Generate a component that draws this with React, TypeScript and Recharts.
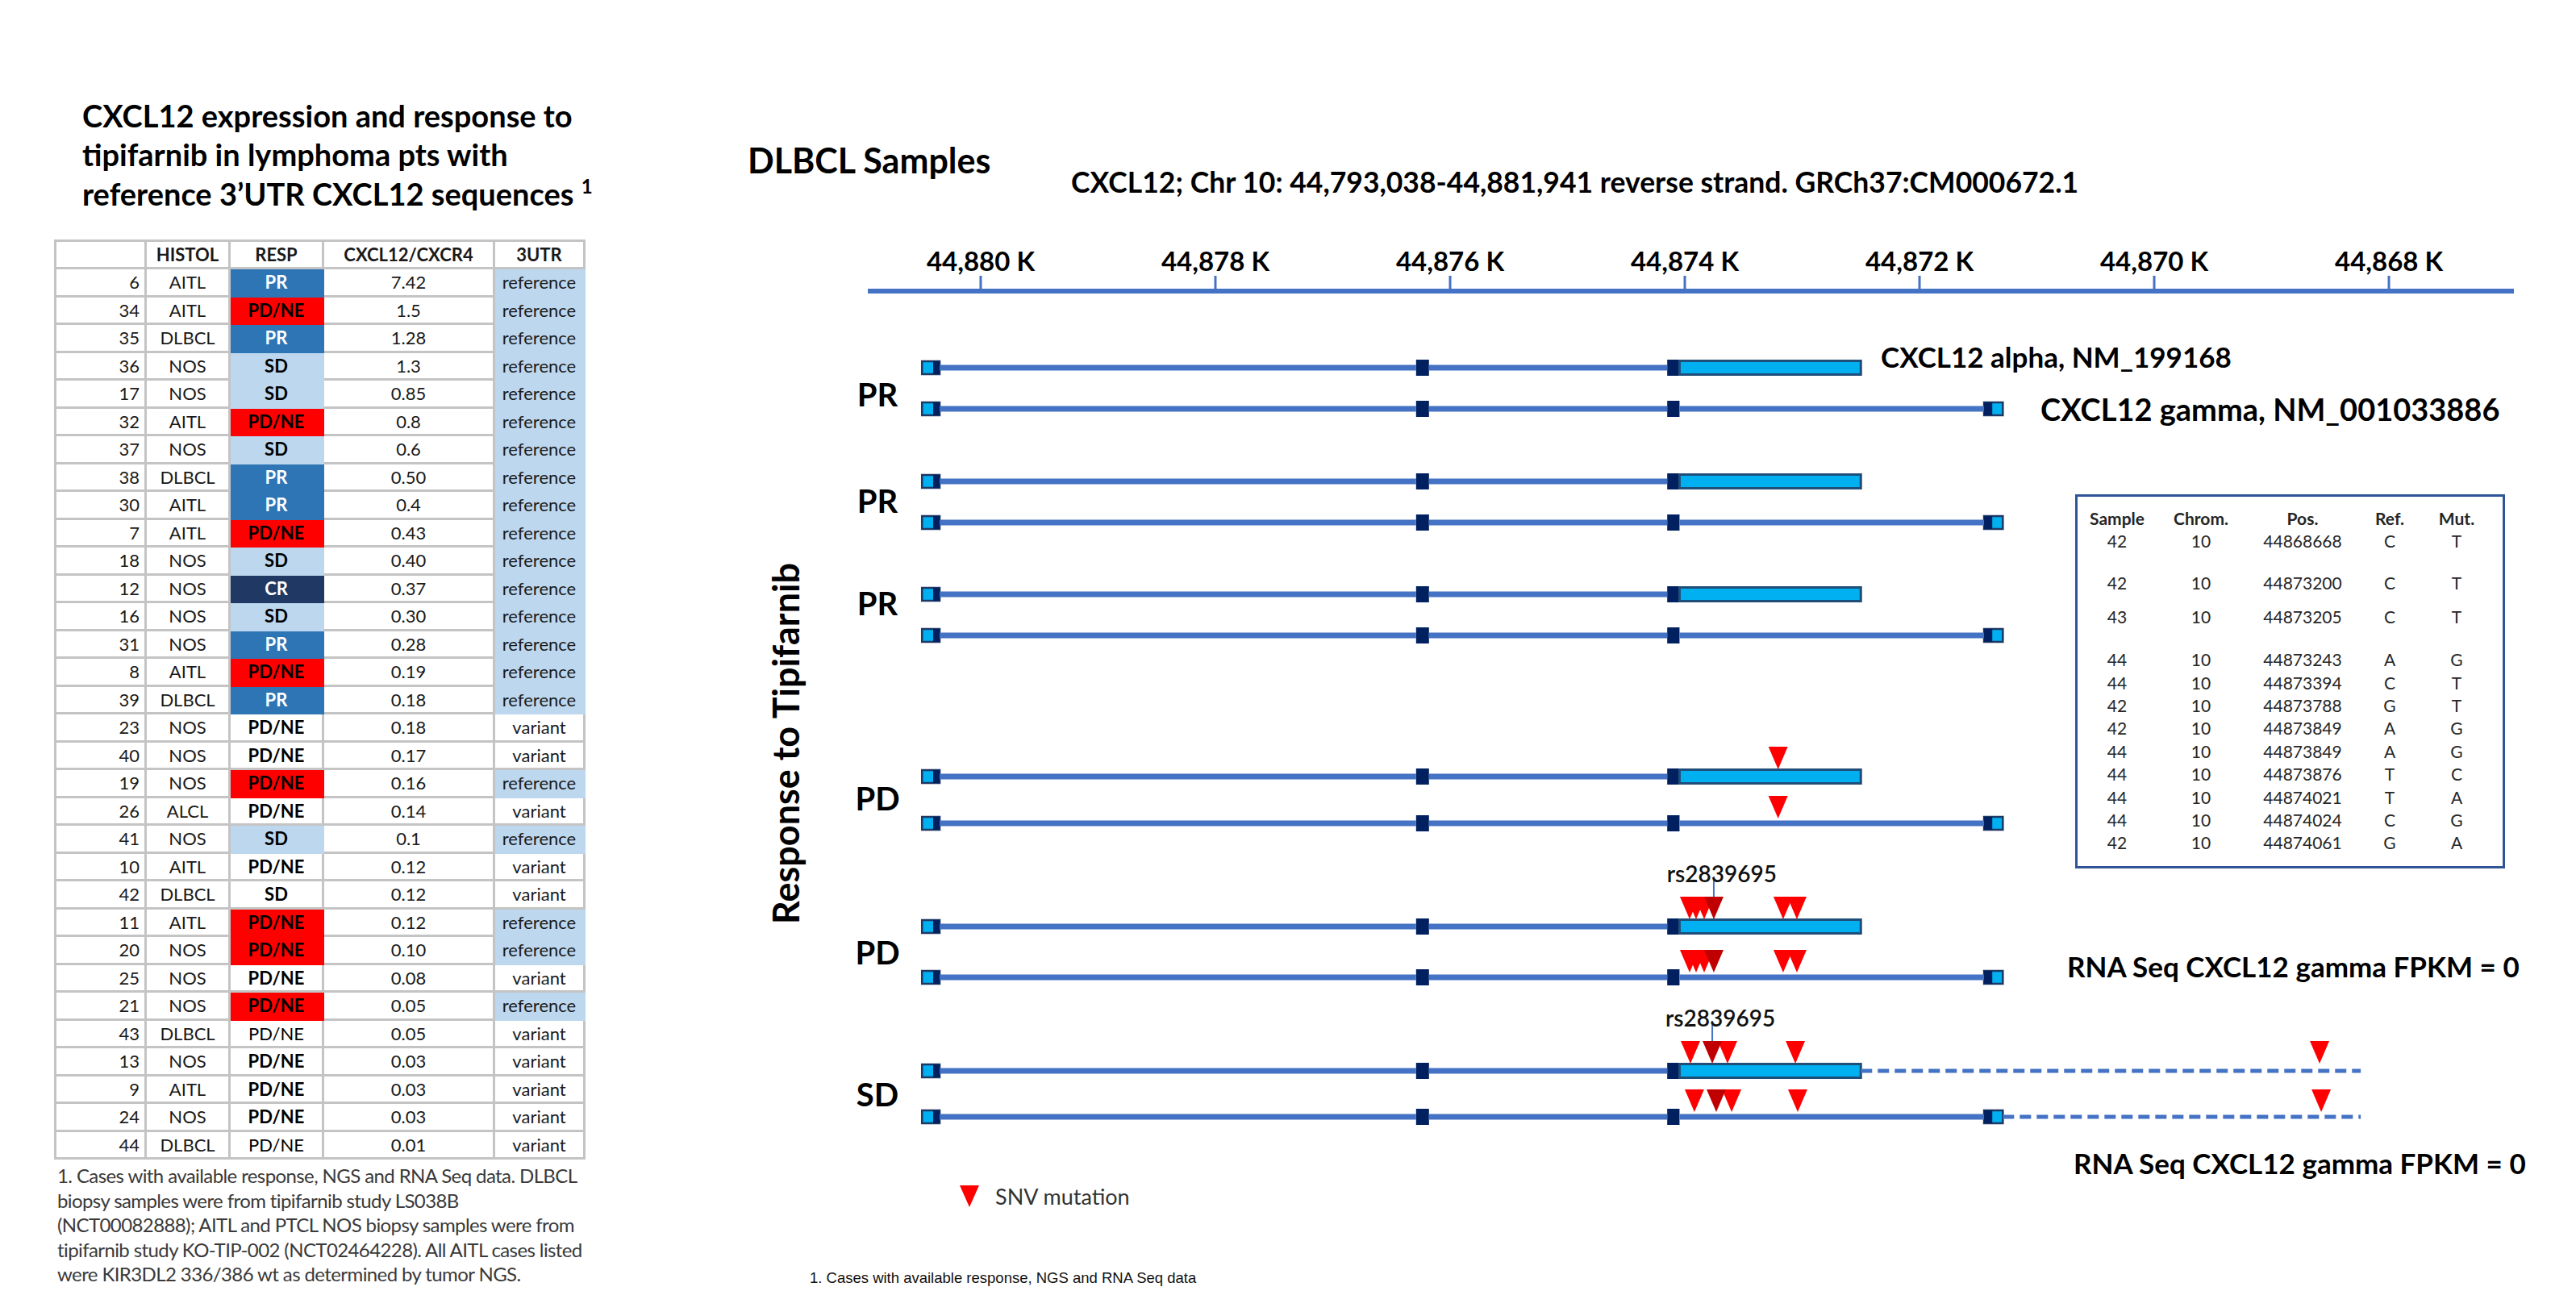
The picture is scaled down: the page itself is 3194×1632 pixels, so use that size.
import React from 'react'
import { ComposedChart, XAxis, YAxis, Scatter, ReferenceLine, ReferenceArea } from 'recharts'

// ---------- left table: cases ----------
const caseIds = [6, 34, 35, 36, 17, 32, 37, 38, 30, 7, 18, 12, 16, 31, 8, 39, 23, 40, 19, 26, 41, 10, 42, 11, 20, 25, 21, 43, 13, 9, 24, 44]
const histology = ['AITL', 'AITL', 'DLBCL', 'NOS', 'NOS', 'AITL', 'NOS', 'DLBCL', 'AITL', 'AITL', 'NOS', 'NOS', 'NOS', 'NOS', 'AITL', 'DLBCL',
  'NOS', 'NOS', 'NOS', 'ALCL', 'NOS', 'AITL', 'DLBCL', 'AITL', 'NOS', 'NOS', 'NOS', 'DLBCL', 'NOS', 'AITL', 'NOS', 'DLBCL']
const response = ['PR', 'PD/NE', 'PR', 'SD', 'SD', 'PD/NE', 'SD', 'PR', 'PR', 'PD/NE', 'SD', 'CR', 'SD', 'PR', 'PD/NE', 'PR',
  'PD/NE', 'PD/NE', 'PD/NE', 'PD/NE', 'SD', 'PD/NE', 'SD', 'PD/NE', 'PD/NE', 'PD/NE', 'PD/NE', 'PD/NE', 'PD/NE', 'PD/NE', 'PD/NE', 'PD/NE']
const ratio = ['7.42', '1.5', '1.28', '1.3', '0.85', '0.8', '0.6', '0.50', '0.4', '0.43', '0.40', '0.37', '0.30', '0.28', '0.19', '0.18',
  '0.18', '0.17', '0.16', '0.14', '0.1', '0.12', '0.12', '0.12', '0.10', '0.08', '0.05', '0.05', '0.03', '0.03', '0.03', '0.01']
const utr = ['reference', 'reference', 'reference', 'reference', 'reference', 'reference', 'reference', 'reference', 'reference', 'reference',
  'reference', 'reference', 'reference', 'reference', 'reference', 'reference', 'variant', 'variant', 'reference', 'variant', 'reference',
  'variant', 'variant', 'reference', 'reference', 'variant', 'reference', 'variant', 'variant', 'variant', 'variant', 'variant']
const plainResp = [43, 44]
const tableHeader = ['', 'HISTOL', 'RESP', 'CXCL12/CXCR4', '3UTR']

// ---------- inset table: SNVs ----------
const mutHeader = ['Sample', 'Chrom.', 'Pos.', 'Ref.', 'Mut.']
const mutSample = [42, 42, 43, 44, 44, 42, 42, 44, 44, 44, 44, 42]
const mutChrom = [10, 10, 10, 10, 10, 10, 10, 10, 10, 10, 10, 10]
const mutPos = [44868668, 44873200, 44873205, 44873243, 44873394, 44873788, 44873849, 44873849, 44873876, 44874021, 44874024, 44874061]
const mutRef = ['C', 'C', 'C', 'A', 'C', 'G', 'A', 'A', 'T', 'T', 'C', 'G']
const mutAlt = ['T', 'T', 'T', 'G', 'T', 'T', 'G', 'G', 'C', 'A', 'G', 'A']

// ---------- gene tracks ----------
const genomeTicks = [44880000, 44878000, 44876000, 44874000, 44872000, 44870000, 44868000]
const laneResponse = ['PR', 'PR', 'PR', 'PD', 'PD', 'SD']
const alphaY = [9.5, 23.6, 37.6, 60.2, 78.8, 96.7]
const gammaY = [14.6, 28.7, 42.7, 66.0, 85.1, 102.4]
const laneLabelY = [12.8, 26.0, 38.7, 62.9, 82.0, 99.6]
const extendTo = [null, null, null, null, null, 44868240]

const exon1 = [44880500, 44880350]
const exon1Split = 44880405
const exon2 = [44876290, 44876180]
const exon3 = [44874150, 44874045]
const alphaUtr = [44874045, 44872500]
const gammaLast = [44871450, 44871290]
const gammaLastSplit = 44871380

const pd1Snv = [44873205]
const pd2Snv = [44873959, 44873904, 44873835, 44873753, 44873162, 44873045]
const sdAlphaSnv = [44873952, 44873766, 44873636, 44873058, 44868591]
const sdGammaSnv = [44873918, 44873732, 44873601, 44873038, 44868577]
const rsSites = [44873753, 44873766, 44873732]
const rsLabelLane = [4, 5]
const rsLabelPos = [44873753, 44873766]

const FONT = 'Lato, "Open Sans", sans-serif'
const LINE = '#4472C4'
const LIGHT = '#00B0F0'
const DARK = '#002060'
const EDGE = '#1F3864'

function Txt({ x, y, size, weight = 400, anchor = 'start', color = '#000', family = FONT, spacing = 0, children }: any) {
  const tx = anchor === 'middle' ? '-50%' : anchor === 'end' ? '-100%' : '0'
  return (
    <div style={{
      position: 'absolute', left: x, top: y, transform: `translate(${tx}, -50%)`, fontSize: size, fontWeight: weight,
      color, fontFamily: family, whiteSpace: 'nowrap', lineHeight: 1, letterSpacing: spacing,
    }}>{children}</div>
  )
}

function CaseTable() {
  const border = '3px solid #C4C4C4'
  const widths = [112, 104, 116, 212, 112]
  const respStyle = (i: number) => {
    const r = response[i]
    const ref = utr[i] === 'reference'
    if (r === 'PR') return { bg: '#2E75B6', color: '#fff' }
    if (r === 'CR') return { bg: '#1F3864', color: '#fff' }
    if (r === 'PD/NE' && ref) return { bg: '#FF0000', color: '#000' }
    if (r === 'SD' && ref) return { bg: '#BDD7EE', color: '#000' }
    return { bg: '#fff', color: '#000' }
  }
  const cell = (bg: string, extra: any = {}) => ({
    border: bg === '#fff' ? border : `3px solid ${bg}`, background: bg, padding: 0, textAlign: 'center' as const, ...extra,
  })
  return (
    <table style={{
      position: 'absolute', left: 67, top: 297, borderCollapse: 'collapse', tableLayout: 'fixed', width: 656,
      fontFamily: FONT, fontSize: 22, color: '#1a1a1a', border,
    }}>
      <colgroup>{widths.map((w, i) => <col key={i} style={{ width: w }} />)}</colgroup>
      <tbody>
        <tr style={{ height: 34 }}>
          {tableHeader.map((h, i) => <td key={i} style={{ ...cell('#fff'), fontWeight: 700 }}>{h}</td>)}
        </tr>
        {caseIds.map((id, i) => {
          const rs = respStyle(i)
          const utrBg = utr[i] === 'reference' ? '#BDD7EE' : '#fff'
          return (
            <tr key={id} style={{ height: 34.5 }}>
              <td style={{ ...cell('#fff'), textAlign: 'right', paddingRight: 6 }}>{id}</td>
              <td style={cell('#fff')}>{histology[i]}</td>
              <td style={{ ...cell(rs.bg), color: rs.color, fontWeight: plainResp.includes(id) ? 400 : 700 }}>{response[i]}</td>
              <td style={cell('#fff')}>{ratio[i]}</td>
              <td style={cell(utrBg)}>{utr[i]}</td>
            </tr>
          )
        })}
      </tbody>
    </table>
  )
}

function MutationTable() {
  const cols = [98, 110, 142, 74, 92]
  const extraGap: Record<number, number> = { 1: 24, 2: 13, 3: 25 }
  const rows = mutSample.map((s, i) => [s, mutChrom[i], mutPos[i], mutRef[i], mutAlt[i]])
  const Row = ({ vals, bold, mt }: any) => (
    <div style={{ display: 'flex', height: 28.4, alignItems: 'center', marginTop: mt }}>
      {vals.map((v: any, j: number) => (
        <div key={j} style={{ width: cols[j], textAlign: 'center', fontWeight: bold ? 700 : 400 }}>{v}</div>
      ))}
    </div>
  )
  return (
    <div style={{
      position: 'absolute', left: 2573, top: 613, width: 527, height: 446, border: '3px solid #2F5597',
      fontFamily: FONT, fontSize: 21, color: '#262626', paddingTop: 12, boxSizing: 'content-box',
    }}>
      <Row vals={mutHeader} bold mt={0} />
      {rows.map((r, i) => <Row key={i} vals={r} mt={extraGap[i] ?? 0} />)}
    </div>
  )
}

const Triangle = (props: any) => {
  const { cx, cy } = props
  const d = props.payload ?? props
  const tip = cy - d.lift
  return <polygon points={`${cx - 12},${tip - 28} ${cx + 12},${tip - 28} ${cx},${tip}`} fill={d.dark ? '#C00000' : '#FF0000'} />
}

const RsLabel = (props: any) => {
  const { cx, cy } = props
  const tip = cy - 9
  return (
    <g>
      <line x1={cx} x2={cx} y1={tip - 28} y2={tip - 53} stroke={LINE} strokeWidth={2} />
      <text x={cx + 10} y={tip - 57} textAnchor="middle" dominantBaseline="central" fontSize={28} fontFamily={FONT} fontWeight={600} fill="#111">
        rs2839695
      </text>
    </g>
  )
}

const LaneTick = (props: any) => {
  const { x, y, payload } = props
  const i = laneLabelY.indexOf(payload.value)
  return (
    <text x={x + 12} y={y} textAnchor="middle" dominantBaseline="central" fontSize={40} fontWeight={700} fontFamily={FONT} fill="#000">
      {laneResponse[i]}
    </text>
  )
}

function TrackChart() {
  const snvTracks = [
    { lane: 3, iso: 'alpha', pos: pd1Snv }, { lane: 3, iso: 'gamma', pos: pd1Snv },
    { lane: 4, iso: 'alpha', pos: pd2Snv }, { lane: 4, iso: 'gamma', pos: pd2Snv },
    { lane: 5, iso: 'alpha', pos: sdAlphaSnv }, { lane: 5, iso: 'gamma', pos: sdGammaSnv },
  ]
  const snvPoints = snvTracks
    .flatMap(t => t.pos.map(p => ({
      x: p, y: t.iso === 'alpha' ? alphaY[t.lane] : gammaY[t.lane], lift: t.iso === 'alpha' ? 9 : 6, dark: rsSites.includes(p),
    })))
    .sort((a, b) => Number(a.dark) - Number(b.dark))
  const rsPoints = rsLabelPos.map((p, i) => ({ x: p, y: alphaY[rsLabelLane[i]] }))

  const box = (key: string, x1: number, x2: number, y: number, h: number, fill: string, stroke?: string, sw = 0) => (
    <ReferenceArea key={key} x1={x1} x2={x2} y1={y - h} y2={y + h} fill={fill} fillOpacity={1}
      stroke={stroke ?? 'none'} strokeWidth={sw} ifOverflow="extendDomain" />
  )
  const seg = (key: string, x1: number, x2: number, y: number, dashed = false) => (
    <ReferenceLine key={key} segment={[{ x: x1, y }, { x: x2, y }]} stroke={LINE}
      strokeWidth={dashed ? 5 : 7} strokeDasharray={dashed ? '14 7' : undefined} />
  )

  const parts: React.ReactNode[] = []
  laneResponse.forEach((_, i) => {
    const a = alphaY[i]
    const g = gammaY[i]
    ;[a, g].forEach((y, k) => {
      parts.push(seg(`i1-${i}-${k}`, exon1[1], exon2[0], y))
      parts.push(seg(`i2-${i}-${k}`, exon2[1], exon3[0], y))
    })
    parts.push(seg(`i3-${i}`, exon3[1], gammaLast[0], g))
    const ext = extendTo[i]
    if (ext) {
      parts.push(seg(`da-${i}`, alphaUtr[1], ext, a, true))
      parts.push(seg(`dg-${i}`, gammaLast[1], ext, g, true))
    }
    ;[a, g].forEach((y, k) => {
      parts.push(box(`e1-${i}-${k}`, exon1[0], exon1[1], y, 0.8, LIGHT, EDGE, 2.5))
      parts.push(box(`e1d-${i}-${k}`, exon1Split, exon1[1], y, 0.8, DARK))
      parts.push(box(`e2-${i}-${k}`, exon2[0], exon2[1], y, 1.0, DARK))
      parts.push(box(`e3-${i}-${k}`, exon3[0], exon3[1], y, 1.0, DARK))
    })
    parts.push(box(`ua-${i}`, alphaUtr[0], alphaUtr[1], a, 0.85, LIGHT, '#1F4E79', 3))
    parts.push(box(`gl-${i}`, gammaLast[0], gammaLast[1], g, 0.8, LIGHT, EDGE, 2.5))
    parts.push(box(`gld-${i}`, gammaLast[0], gammaLastSplit, g, 0.8, DARK))
  })

  return (
    <div style={{ position: 'absolute', left: 1000, top: 260 }}>
      <ComposedChart width={2127} height={1181} margin={{ top: 0, right: 10, bottom: 0, left: 0 }}>
        <XAxis
          type="number" dataKey="x" orientation="top" reversed allowDataOverflow
          domain={[44866935, 44880962]} ticks={genomeTicks} interval={0} height={101}
          tickFormatter={(v: number) => `${(v / 1000).toLocaleString('en-US')} K`}
          axisLine={{ stroke: LINE, strokeWidth: 6 }} tickLine={{ stroke: LINE, strokeWidth: 3 }}
          tickSize={19} tickMargin={6}
          tick={{ fontSize: 33, fontWeight: 700, fill: '#000', fontFamily: FONT }}
        />
        <YAxis
          type="number" dataKey="y" reversed allowDataOverflow domain={[0, 108]} width={76}
          ticks={laneLabelY} interval={0} axisLine={false} tickLine={false} tickSize={0} tickMargin={0} tick={<LaneTick />}
        />
        {parts}
        <Scatter data={snvPoints} shape={<Triangle />} isAnimationActive={false} />
        <Scatter data={rsPoints} shape={<RsLabel />} isAnimationActive={false} />
      </ComposedChart>
    </div>
  )
}

export default function App() {
  return (
    <div style={{ position: 'absolute', left: 0, top: 0, width: 3194, height: 1632, background: '#fff', overflow: 'hidden', fontFamily: FONT }}>
      {/* left panel */}
      <Txt x={102} y={143} size={38} weight={700}>CXCL12 expression and response to</Txt>
      <Txt x={102} y={191} size={38} weight={700}>tipifarnib in lymphoma pts with</Txt>
      <Txt x={102} y={240} size={38} weight={700}>
        reference 3’UTR CXCL12 sequences <span style={{ fontSize: 24, position: 'relative', top: -15 }}>1</span>
      </Txt>
      <CaseTable />
      {[
        '1. Cases with available response, NGS and RNA Seq data. DLBCL',
        'biopsy samples were from tipifarnib study LS038B',
        '(NCT00082888);  AITL and PTCL NOS biopsy samples were from',
        'tipifarnib study KO-TIP-002 (NCT02464228). All AITL cases listed',
        'were KIR3DL2 336/386  wt as determined by tumor NGS.',
      ].map((t, i) => (
        <Txt key={i} x={71} y={1458 + i * 30.5} size={24} color="#3a3a3a" spacing={-0.6}>{t}</Txt>
      ))}

      {/* right panel */}
      <Txt x={927} y={198} size={43} weight={700}>DLBCL Samples</Txt>
      <Txt x={1328} y={226} size={35.5} weight={700}>CXCL12; Chr 10: 44,793,038-44,881,941 reverse strand. GRCh37:CM000672.1</Txt>
      <TrackChart />
      <div style={{
        position: 'absolute', left: 974, top: 922, transform: 'translate(-50%, -50%) rotate(-90deg)', fontSize: 45, fontWeight: 700,
        whiteSpace: 'nowrap', lineHeight: 1, fontFamily: FONT,
      }}>Response to Tipifarnib</div>
      <Txt x={2332} y={442} size={35} weight={700}>CXCL12 alpha, NM_199168</Txt>
      <Txt x={2530} y={507} size={38} weight={700}>CXCL12 gamma, NM_001033886</Txt>
      <Txt x={2563} y={1198} size={35} weight={700}>RNA Seq CXCL12 gamma FPKM = 0</Txt>
      <Txt x={2571} y={1442} size={35} weight={700}>RNA Seq CXCL12 gamma FPKM = 0</Txt>
      <MutationTable />
      <svg style={{ position: 'absolute', left: 1190, top: 1470 }} width={24} height={27}>
        <polygon points="0,0 24,0 12,27" fill="#FF0000" />
      </svg>
      <Txt x={1234} y={1483} size={27} color="#333">SNV mutation</Txt>
      <Txt x={1004} y={1585} size={18.5} family='"Liberation Sans", Arial, sans-serif' color="#111">
        1. Cases with available response, NGS and RNA Seq data
      </Txt>
    </div>
  )
}
